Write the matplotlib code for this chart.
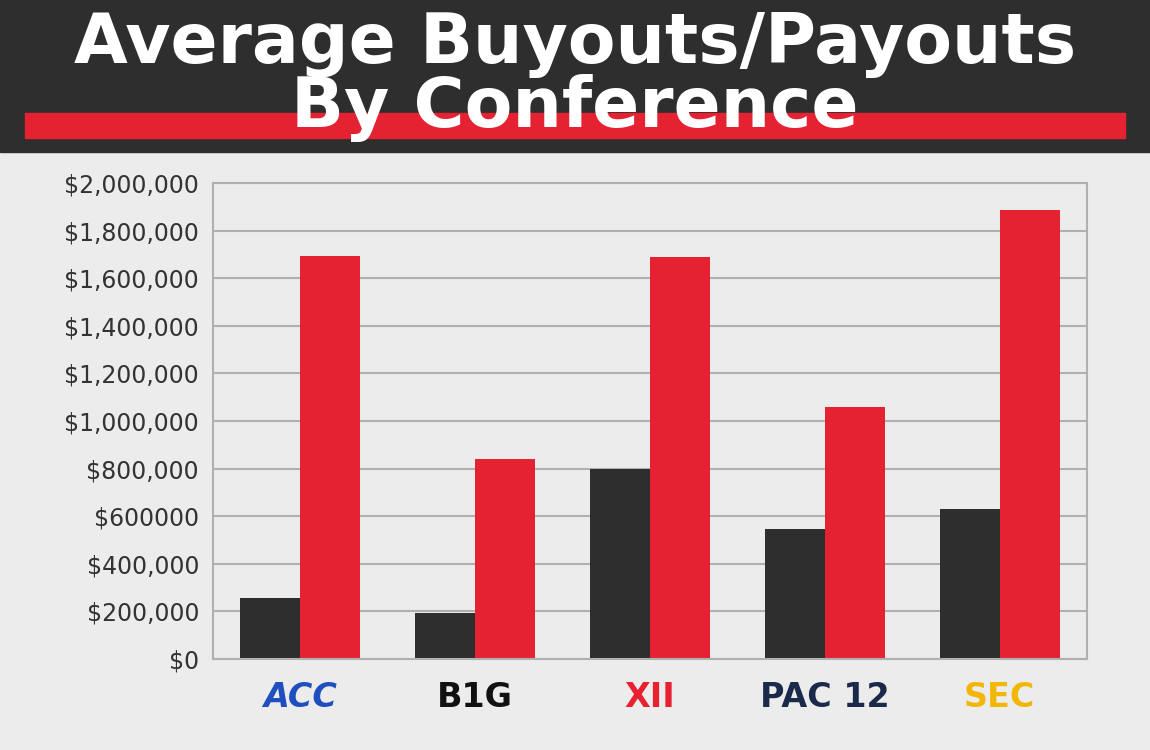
import numpy as np
import matplotlib.pyplot as plt
from matplotlib.patches import Rectangle

conferences = ["ACC", "B1G", "XII", "PAC 12", "SEC"]
buyouts = [255000, 195000, 800000, 545000, 630000]
payouts = [1695000, 840000, 1690000, 1060000, 1885000]
tick_values = list(range(0, 2000001, 200000))
tick_labels = ["$0", "$200,000", "$400,000", "$600000", "$800,000", "$1,000,000",
               "$1,200,000", "$1,400,000", "$1,600,000", "$1,800,000", "$2,000,000"]
logo_colors = ["#1f4fbf", "#111111", "#e8202f", "#1b2a4a", "#f2b705"]

fig = plt.figure(figsize=(11.5, 7.5), dpi=100)
fig.patch.set_facecolor("#ececec")

# header
fig.patches.append(Rectangle((0, 1 - 152/750), 1, 152/750, transform=fig.transFigure,
                             color="#2e2e2e", zorder=0))
fig.patches.append(Rectangle((25/1150, 1 - 138/750), 1100/1150, 25/750,
                             transform=fig.transFigure, color="#e42232", zorder=1))
fig.text(0.5, 1 - 45/750, "Average Buyouts/Payouts", ha="center", va="center",
         color="white", fontsize=50, fontweight="bold", family="DejaVu Sans", zorder=3)
fig.text(0.5, 1 - 108/750, "By Conference", ha="center", va="center",
         color="white", fontsize=50, fontweight="bold", family="DejaVu Sans", zorder=3)

ax = fig.add_axes([213/1150, 1 - 659/750, 874/1150, 476/750])
ax.set_facecolor("#ececec")
x = np.arange(len(conferences))
w = 0.343
ax.bar(x - w/2, buyouts, w, color="#2e2e2e", zorder=2)
ax.bar(x + w/2, payouts, w, color="#e42232", zorder=2)
ax.set_xlim(-0.5, len(conferences) - 0.5)
ax.set_ylim(0, 2000000)
ax.set_yticks(tick_values)
ax.set_yticklabels(tick_labels, fontsize=17, color="#333333")
ax.yaxis.grid(True, color="#b0b0b0", linewidth=1.5, zorder=0)
ax.tick_params(axis="y", length=0, pad=10)
ax.set_xticks(x)
ax.set_xticklabels([])
ax.tick_params(axis="x", length=0)
for s in ax.spines.values():
    s.set_color("#b0b0b0")
    s.set_linewidth(1.5)

for xi, name, c in zip(x, conferences, logo_colors):
    style = "italic" if name == "ACC" else "normal"
    ax.text(xi, -0.08, name, transform=ax.get_xaxis_transform(), ha="center", va="center",
            fontsize=24, fontweight="heavy", style=style, color=c)

fig.savefig("out.png", dpi=100, facecolor=fig.get_facecolor())
